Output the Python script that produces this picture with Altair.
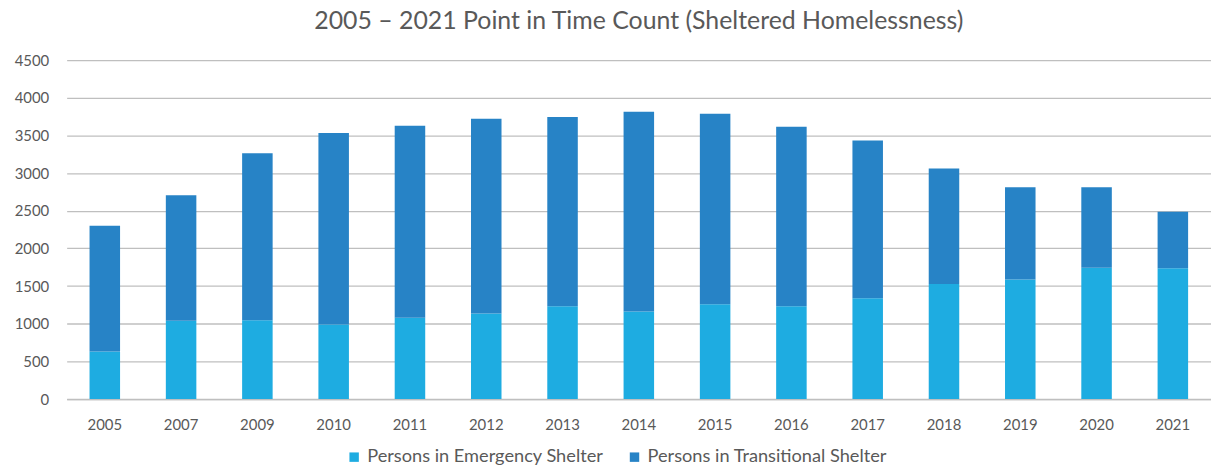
import altair as alt
import pandas as pd

years = ["2005", "2007", "2009", "2010", "2011", "2012", "2013", "2014",
         "2015", "2016", "2017", "2018", "2019", "2020", "2021"]
emergency = [633, 1038, 1047, 990, 1078, 1135, 1232, 1161, 1258, 1232, 1337, 1526, 1588, 1742, 1738]
transitional = [1668, 1667, 2217, 2542, 2551, 2587, 2512, 2653, 2529, 2384, 2094, 1536, 1223, 1069, 747]
series = ["Persons in Emergency Shelter", "Persons in Transitional Shelter"]
colors = ["#1eace1", "#2783c6"]

rows = []
for y, e, t in zip(years, emergency, transitional):
    rows.append({"year": y, "series": series[0], "value": e, "ord": 0})
    rows.append({"year": y, "series": series[1], "value": t, "ord": 1})
df = pd.DataFrame(rows)

FONT = "Lato"
TXT = "#595959"

chart = alt.Chart(df).mark_bar().encode(
    x=alt.X("year:N", sort=years, title=None,
            scale=alt.Scale(paddingInner=0.6, paddingOuter=0.3),
            axis=alt.Axis(labelAngle=0, labelFontSize=15, labelColor=TXT, labelFont=FONT,
                          ticks=False, domain=True, domainColor="#bfbfbf", domainWidth=1.5,
                          labelPadding=19, grid=False)),
    y=alt.Y("value:Q", stack="zero", title=None,
            scale=alt.Scale(domain=[0, 4500], nice=False),
            axis=alt.Axis(values=list(range(0, 4501, 500)), format="d", labelFontSize=15,
                          labelColor=TXT, labelFont=FONT, ticks=False, domain=False,
                          labelPadding=18, gridColor="#bfbfbf", gridWidth=1.3)),
    color=alt.Color("series:N", scale=alt.Scale(domain=series, range=colors),
                    legend=alt.Legend(title=None, orient="none", legendX=280, legendY=390,
                                      direction="horizontal", symbolType="square",
                                      symbolSize=90, symbolStrokeWidth=0, labelLimit=0,
                                      labelFontSize=18.3, labelColor=TXT, labelFont=FONT,
                                      columnPadding=22, labelOffset=4)),
    order=alt.Order("ord:Q", sort="ascending"),
).properties(
    width=1151, height=341,
    title=alt.TitleParams("2005 – 2021 Point in Time Count (Sheltered Homelessness)",
                          fontSize=25, font=FONT, color=TXT, fontWeight="normal",
                          anchor="middle", offset=19),
    autosize=alt.AutoSizeParams(type="none"),
    padding={"left": 59, "top": 51, "right": 0, "bottom": 69},
).configure_view(stroke=None)

chart.save("out.html", embed_options={"renderer": "svg", "actions": False})
